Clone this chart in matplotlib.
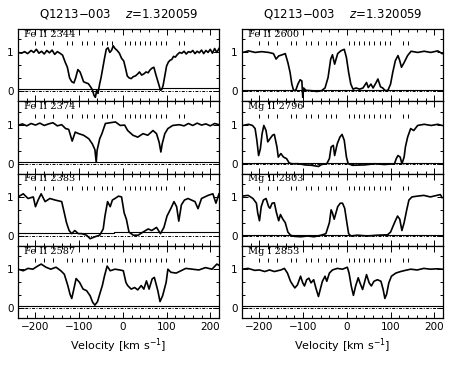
import numpy as np
import matplotlib
matplotlib.use('Agg')
import matplotlib.pyplot as plt
from matplotlib.ticker import MultipleLocator, FixedLocator

# component positions (km/s), same for every transition
comp_v = [-200, -180, -160, -128, -117, -94, -81, -66, -47, -37, -25,
          5, 17, 28, 40, 51, 63, 75, 87, 98, 128, 139]

# Fe II 2344
v_fe2344 = [-240, -232, -225, -218, -210, -204, -198, -192, -186, -180, -174, -168, -162, -156, -150, -144,
            -138, -132, -127, -122, -117, -112, -108, -103, -98, -94, -90, -84, -79, -74, -70, -66, -63, -60,
            -57, -53, -50, -46, -42, -38, -34, -30, -26, -22, -18, -13, -8, -3, 2, 6, 10, 14, 19, 24, 29, 34,
            38, 43, 48, 53, 58, 62, 67, 71, 75, 79, 83, 86, 89, 92, 96, 100, 104, 108, 112, 116, 120, 125,
            130, 135, 140, 145, 150, 155, 160, 165, 170, 175, 180, 185, 190, 195, 200, 205, 210, 215, 220]
f_fe2344 = [1.0, 0.98, 1.02, 0.97, 1.05, 1.0, 1.08, 0.98, 1.03, 0.96, 1.05, 0.99, 1.06, 0.95, 1.02, 0.98,
            0.93, 0.75, 0.62, 0.35, 0.25, 0.22, 0.35, 0.56, 0.5, 0.38, 0.25, 0.22, 0.2, 0.12, 0.05, -0.1, -0.15, 0.02,
            -0.05, 0.2, 0.35, 0.6, 0.85, 1.08, 1.12, 1.0, 1.05, 1.17, 1.1, 1.05, 0.98, 0.85, 0.78, 0.6, 0.4, 0.35,
            0.33, 0.38, 0.4, 0.45, 0.5, 0.42, 0.45, 0.5, 0.48, 0.55, 0.6, 0.62, 0.45, 0.3, 0.15, 0.03, 0.05, 0.15,
            0.4, 0.65, 0.75, 0.8, 0.82, 0.9, 0.88, 0.95, 1.0, 0.98, 1.03, 0.96, 1.02, 1.0, 1.05, 0.97, 1.03, 0.99,
            1.06, 0.97, 1.05, 1.0, 1.08, 0.98, 1.1, 1.0, 1.1]
sv_fe2344 = [-240, -2, 88, 220]
s_fe2344 = [0.06, 0.07, 0.09, 0.09]

# Fe II 2374
v_fe2374 = [-240, -230, -220, -210, -200, -190, -180, -170, -160, -150, -140, -131, -124, -116, -109, -101,
            -90, -78, -70, -64, -61, -59, -53, -48, -40, -29, -17, -6, 4, 11, 23, 34, 46, 57, 69, 77, 83, 87,
            90, 96, 103, 114, 129, 140, 150, 160, 170, 180, 190, 200, 210, 220]
f_fe2374 = [0.98, 1.02, 0.97, 1.03, 0.99, 1.04, 0.98, 1.02, 1.05, 0.97, 1.0, 0.9, 0.88, 0.58, 0.81, 0.77,
            0.73, 0.64, 0.51, 0.36, 0.04, 0.34, 0.64, 0.77, 1.03, 1.05, 1.07, 0.98, 0.99, 0.85, 0.73, 0.68, 0.77,
            0.73, 0.85, 0.77, 0.55, 0.3, 0.51, 0.77, 0.9, 0.98, 1.0, 0.97, 1.03, 0.98, 1.04, 0.99, 1.02, 0.97, 1.03, 1.0]
sv_fe2374 = [-240, 220]
s_fe2374 = [0.04, 0.04]

# Fe II 2383
v_fe2383 = [-240, -228, -217, -205, -200, -194, -187, -178, -167, -155, -140, -134, -129, -123, -117, -110,
            -102, -94, -83, -75, -64, -53, -45, -41, -35, -29, -24, -18, -10, -3, 3, 8, 14, 24, 35, 46, 58,
            66, 77, 86, 94, 101, 110, 117, 123, 128, 134, 141, 149, 165, 172, 180, 195, 206, 213, 220]
f_fe2383 = [1.0, 1.08, 0.96, 1.0, 0.75, 0.92, 1.08, 0.88, 0.96, 0.92, 0.88, 0.59, 0.34, 0.14, 0.06, 0.14,
            0.06, 0.06, 0.02, -0.07, -0.02, 0.02, 0.18, 0.51, 0.88, 0.75, 0.92, 0.96, 1.02, 1.0, 0.59, 0.43,
            0.1, 0.02, 0.02, 0.1, 0.18, 0.14, 0.22, 0.06, 0.22, 0.51, 0.71, 0.88, 0.75, 0.38, 0.8, 0.92, 0.96,
            0.88, 0.7, 0.96, 1.04, 1.08, 0.84, 1.08]
sv_fe2383 = [-240, -20, 100, 220]
s_fe2383 = [0.08, 0.09, 0.1, 0.1]

# Fe II 2587
v_fe2587 = [-240, -228, -217, -206, -195, -187, -176, -165, -153, -142, -134, -126, -121, -117, -113, -107,
            -99, -91, -83, -75, -69, -64, -58, -53, -47, -42, -36, -29, -18, -7, 1, 7, 11, 19, 27, 34, 42,
            48, 54, 60, 67, 72, 80, 85, 91, 99, 103, 110, 122, 133, 144, 159, 174, 189, 204, 215, 220]
f_fe2587 = [1.0, 0.96, 1.02, 1.0, 1.08, 1.13, 1.05, 1.0, 1.05, 0.96, 0.87, 0.58, 0.36, 0.25, 0.45, 0.76,
            0.66, 0.49, 0.45, 0.32, 0.15, 0.08, 0.17, 0.36, 0.58, 0.83, 1.08, 0.96, 1.0, 0.98, 0.96, 0.66, 0.58,
            0.49, 0.53, 0.47, 0.58, 0.49, 0.7, 0.49, 0.75, 0.79, 0.45, 0.17, 0.32, 0.66, 1.0, 0.92, 0.9, 0.96,
            1.02, 1.0, 0.98, 1.04, 1.0, 1.13, 1.1]
sv_fe2587 = [-240, 220]
s_fe2587 = [0.07, 0.07]

# Fe II 2600
v_fe2600 = [-238, -225, -210, -195, -179, -168, -162, -156, -148, -141, -135, -130, -126, -122, -117, -112,
            -107, -103, -101, -99, -94, -81, -69, -58, -50, -43, -37, -33, -28, -21, -14, -6, -1, 4, 9, 14,
            21, 29, 37, 45, 49, 55, 60, 67, 71, 77, 82, 88, 94, 100, 105, 111, 117, 121, 125, 131, 139, 147,
            162, 177, 192, 208, 218]
f_fe2600 = [1.0, 1.04, 1.0, 1.02, 1.0, 0.97, 0.83, 0.91, 0.94, 0.97, 0.74, 0.49, 0.19, 0.03, 0.03, 0.19,
            0.3, 0.27, -0.15, 0.09, 0.03, 0.02, 0.0, 0.02, 0.09, 0.36, 0.83, 0.94, 0.7, 0.97, 1.04, 1.08, 0.87,
            0.49, 0.19, 0.06, 0.09, 0.06, 0.09, 0.23, 0.1, 0.19, 0.09, 0.23, 0.32, 0.12, 0.09, 0.02, 0.03, 0.19,
            0.49, 0.79, 0.92, 0.79, 0.62, 0.74, 0.92, 1.03, 1.0, 1.03, 1.0, 1.04, 0.97]
sv_fe2600 = [-240, 220]
s_fe2600 = [0.035, 0.035]

# Mg II 2796
v_mg2796 = [-238, -225, -216, -210, -206, -202, -198, -194, -190, -185, -181, -176, -170, -166, -160, -157,
            -151, -145, -138, -132, -126, -111, -96, -81, -65, -58, -46, -40, -36, -31, -28, -22, -16, -11,
            -6, -1, 3, 13, 41, 64, 86, 109, 113, 117, 122, 126, 131, 134, 139, 146, 153, 162, 177, 193, 208, 218]
f_mg2796 = [0.98, 1.01, 0.98, 0.9, 0.6, 0.21, 0.38, 0.77, 0.98, 0.85, 0.56, 0.64, 0.73, 0.75, 0.43, 0.17,
            0.26, 0.17, 0.13, 0.02, 0.0, 0.0, -0.03, -0.04, -0.07, -0.02, 0.0, 0.13, 0.43, 0.47, 0.21, 0.51,
            0.68, 0.75, 0.6, 0.17, 0.0, -0.04, -0.03, 0.0, -0.02, 0.0, 0.13, 0.21, 0.17, 0.0, 0.17, 0.43, 0.68,
            0.9, 0.85, 0.98, 1.01, 0.98, 1.01, 0.98]
sv_mg2796 = [-240, 220]
s_mg2796 = [0.03, 0.03]

# Mg II 2803
v_mg2803 = [-240, -226, -215, -207, -204, -200, -196, -191, -185, -179, -176, -171, -166, -161, -156, -152,
            -147, -141, -135, -129, -120, -105, -90, -75, -59, -48, -40, -36, -33, -29, -25, -21, -15, -10,
            -5, 0, 4, 9, 24, 47, 70, 93, 100, 106, 111, 116, 121, 126, 131, 137, 142, 149, 161, 176, 191,
            206, 214, 218]
f_mg2803 = [1.02, 1.04, 0.96, 0.84, 0.59, 0.39, 0.75, 0.92, 0.96, 0.75, 0.71, 0.84, 0.85, 0.59, 0.39, 0.55,
            0.44, 0.34, 0.1, 0.02, -0.01, -0.02, 0.0, -0.02, 0.02, 0.06, 0.34, 0.67, 0.59, 0.43, 0.59, 0.75,
            0.84, 0.84, 0.71, 0.34, 0.06, 0.0, 0.02, 0.0, 0.02, 0.03, 0.1, 0.26, 0.39, 0.51, 0.43, 0.14, 0.34,
            0.67, 0.92, 1.0, 1.02, 1.04, 1.0, 1.04, 1.06, 0.98]
sv_mg2803 = [-240, 220]
s_mg2803 = [0.03, 0.03]

# Mg I 2853
v_mg2853 = [-240, -226, -211, -200, -188, -177, -166, -151, -143, -136, -129, -124, -119, -113, -106, -101,
            -97, -92, -87, -82, -76, -71, -65, -60, -56, -50, -46, -40, -33, -22, -10, 1, 5, 10, 15, 20, 26,
            30, 36, 41, 45, 51, 56, 62, 70, 78, 83, 87, 91, 96, 102, 112, 123, 134, 146, 161, 176, 191, 206, 218]
f_mg2853 = [1.0, 1.02, 0.97, 0.98, 0.94, 0.98, 0.94, 0.98, 1.02, 0.9, 0.69, 0.6, 0.52, 0.6, 0.82, 0.65,
            0.57, 0.73, 0.77, 0.65, 0.73, 0.52, 0.3, 0.52, 0.69, 0.82, 0.69, 0.9, 0.98, 1.02, 1.0, 1.05, 0.9,
            0.57, 0.33, 0.57, 0.78, 0.65, 0.48, 0.69, 0.86, 0.65, 0.57, 0.69, 0.73, 0.69, 0.48, 0.25, 0.36, 0.65,
            0.82, 0.9, 0.94, 0.97, 1.0, 0.98, 1.02, 1.0, 1.01, 1.0]
sv_mg2853 = [-240, 220]
s_mg2853 = [0.065, 0.065]

left_col = [('Fe II 2344', v_fe2344, f_fe2344, sv_fe2344, s_fe2344),
            ('Fe II 2374', v_fe2374, f_fe2374, sv_fe2374, s_fe2374),
            ('Fe II 2383', v_fe2383, f_fe2383, sv_fe2383, s_fe2383),
            ('Fe II 2587', v_fe2587, f_fe2587, sv_fe2587, s_fe2587)]
right_col = [('Fe II 2600', v_fe2600, f_fe2600, sv_fe2600, s_fe2600),
             ('Mg II 2796', v_mg2796, f_mg2796, sv_mg2796, s_mg2796),
             ('Mg II 2803', v_mg2803, f_mg2803, sv_mg2803, s_mg2803),
             ('Mg I 2853', v_mg2853, f_mg2853, sv_mg2853, s_mg2853)]

title = 'Q1213$-$003    $z$=1.320059'

fig = plt.figure(figsize=(4.64, 3.67), dpi=100)

col_left = [18/464, 242/464]
col_w = 201/464
top = 1 - 29/367
bottom = 1 - 318/367
ph = (top - bottom) / 4

for c, panels in enumerate([left_col, right_col]):
    for r, (name, v, f, sv, s) in enumerate(panels):
        ax = fig.add_axes([col_left[c], top - (r + 1) * ph, col_w, ph])
        ax.plot(v, f, color='black', lw=1.2)
        ax.plot(sv, s, color='black', lw=0.8, drawstyle='steps-post')
        ax.axhline(0, color='black', lw=0.7, linestyle=(0, (3, 1.5, 1, 1.5)))
        ax.vlines(comp_v, 1.18, 1.28, color='black', lw=0.7)
        ax.text(-226, 1.46, name, fontsize=7, family='serif', va='center', ha='left')
        ax.set_xlim(-240, 220)
        ax.set_ylim(-0.25, 1.6)
        ax.xaxis.set_major_locator(MultipleLocator(100))
        ax.xaxis.set_minor_locator(MultipleLocator(20))
        ax.yaxis.set_major_locator(FixedLocator([0, 1]))
        ax.yaxis.set_minor_locator(FixedLocator([1/3, 2/3, 4/3]))
        ax.tick_params(which='both', direction='in', top=True, right=True, labelsize=7.5, width=0.7)
        ax.tick_params(which='major', length=4, pad=3)
        ax.tick_params(which='minor', length=2)
        for sp in ax.spines.values():
            sp.set_linewidth(0.9)
        if r < 3:
            ax.set_xticklabels([])
        else:
            ax.set_xlabel('Velocity [km s$^{-1}$]', fontsize=8, labelpad=3)
        if r == 0:
            ax.set_title(title, fontsize=8.5, pad=8)

fig.savefig('out.png', dpi=100)
